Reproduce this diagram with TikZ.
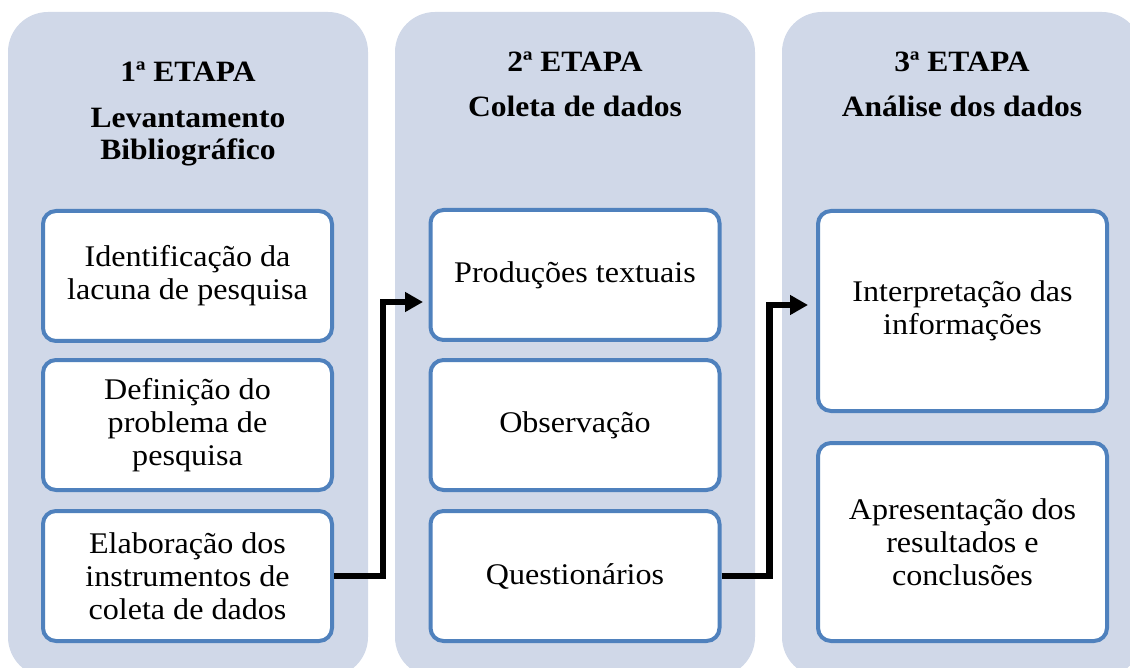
\documentclass[tikz,border=0pt]{standalone}
\usepackage{fontspec}
\setmainfont{Liberation Serif}[FakeStretch=1.07]
\usetikzlibrary{arrows.meta}
\definecolor{panelfill}{HTML}{D0D8E8}
\definecolor{boxline}{HTML}{4F81BD}
\tikzset{
  panel/.style={fill=panelfill, draw=none, rounded corners=40pt, minimum width=360pt, minimum height=665pt, inner sep=0pt},
  stepbox/.style={draw=boxline, line width=4pt, fill=white, rounded corners=13pt, minimum width=289pt, align=center, inner sep=0pt, font=\fontsize{30}{33}\selectfont},
  head/.style={anchor=base, inner sep=0pt, font=\fontsize{29.5}{32}\selectfont\bfseries},
  conn/.style={line width=6.5pt, line join=miter, -{Triangle[length=18pt,width=19pt]}}
}
\begin{document}
\begin{tikzpicture}[x=1pt,y=-1pt]
\useasboundingbox (0,0) rectangle (1130,668);
% panels
\node[panel] (p1) at (188,344.5) {};
\node[panel] (p2) at (575,344.5) {};
\node[panel] (p3) at (962,344.5) {};
% headers
\node[head] (h1a) at (188,82) {1ª ETAPA};
\node[head] (h1b) at (188,128) {Levantamento};
\node[head] (h1c) at (188,160) {Bibliográfico};
\node[head] (h2a) at (575,72) {2ª ETAPA};
\node[head] (h2b) at (575,117) {Coleta de dados};
\node[head] (h3a) at (962,72) {3ª ETAPA};
\node[head] (h3b) at (962,117) {Análise dos dados};
% stage 1 boxes
\node[stepbox, minimum height=130pt] (b11) at (187.5,276) {Identificação da\\lacuna de pesquisa};
\node[stepbox, minimum height=130pt] (b12) at (187.5,425) {Definição do\\problema de\\pesquisa};
\node[stepbox, minimum height=130pt] (b13) at (187.5,576) {Elaboração dos\\instrumentos de\\coleta de dados};
% stage 2 boxes
\node[stepbox, minimum height=130pt] (b21) at (575,275) {Produções textuais};
\node[stepbox, minimum height=130pt] (b22) at (575,425) {Observação};
\node[stepbox, minimum height=130pt] (b23) at (575,576) {Questionários};
% stage 3 boxes
\node[stepbox, minimum height=200pt] (b31) at (962.5,311) {Interpretação das\\informações};
\node[stepbox, minimum height=198pt] (b32) at (962.5,542) {Apresentação dos\\resultados e\\conclusões};
% connectors
\coordinate (e1) at (423,302);
\coordinate (e2) at (808,305);
\draw[conn] (b13.east) -- ++(49,0) |- (e1);
\draw[conn] (b23.east) -- ++(48,0) |- (e2);
\end{tikzpicture}
\end{document}
